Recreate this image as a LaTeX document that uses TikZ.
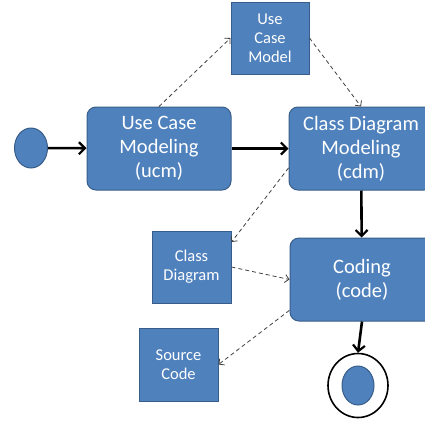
\documentclass[tikz,border=0pt]{standalone}
\usepackage{fontspec}
\setmainfont{Carlito}
\usetikzlibrary{arrows.meta,shapes.geometric}
\definecolor{boxblue}{HTML}{4F81BD}
\definecolor{boxedge}{HTML}{385D8A}
\begin{document}
\begin{tikzpicture}[x=1pt,y=-1pt,
  activity/.style={rectangle, rounded corners=9pt, fill=boxblue, draw=boxedge, line width=1pt, text=white, align=center, inner sep=0pt, minimum width=144pt, minimum height=83pt, font=\fontsize{20.5}{24}\selectfont},
  artifact/.style={rectangle, fill=boxblue, draw=boxedge, line width=1pt, text=white, align=center, inner sep=0pt, minimum width=79pt, minimum height=72pt, font=\fontsize{16.5}{19}\selectfont},
  flow/.style={line width=2.6pt, -{Straight Barb[length=6pt,width=12pt,line width=2.2pt]}},
  dep/.style={line width=0.8pt, draw=black!75, dash pattern=on 4pt off 3pt, -{Straight Barb[length=4pt,width=8pt,line width=0.8pt]}}]
\clip (0,0) rectangle (425,421);
\useasboundingbox (0,0) rectangle (425,421);
\node [ellipse, fill=boxblue, draw=boxedge, line width=1pt, minimum width=33pt, minimum height=40pt] (start) at (31,148) {};
\node [activity] (ucm) at (159,148.5) {Use Case\\Modeling\\(ucm)};
\node [activity] (cdm) at (361,148.5) {Class Diagram\\Modeling\\(cdm)};
\node [activity] (code) at (362,279.5) {Coding\\(code)};
\node [artifact, minimum width=78pt] (ucmodel) at (270,38) {Use\\Case\\Model};
\node [artifact] (cdiagram) at (191.5,267) {Class\\Diagram};
\node [artifact, minimum height=73pt] (source) at (178.5,364.5) {Source\\Code};
\node [ellipse, fill=white, draw=black, line width=1.6pt, minimum width=60pt, minimum height=64pt] (final) at (358,385.5) {};
\node [ellipse, fill=boxblue, draw=boxedge, line width=1pt, minimum width=32pt, minimum height=39pt] (finaldot) at (final.center) {};
\draw [flow] (start) -- (ucm);
\draw [flow] (ucm) -- (cdm);
\draw [flow] (cdm) -- (code);
\draw [flow] (code.south) -- (final.north);
\draw [dep] (ucm.north) -- (ucmodel.west);
\draw [dep] (ucmodel.east) -- (cdm.north);
\draw [dep] (cdm.195) -- (cdiagram.32);
\draw [dep] (cdiagram.east) -- (code.west);
\draw [dep] (code.203) -- (source.east);
\end{tikzpicture}
\end{document}
